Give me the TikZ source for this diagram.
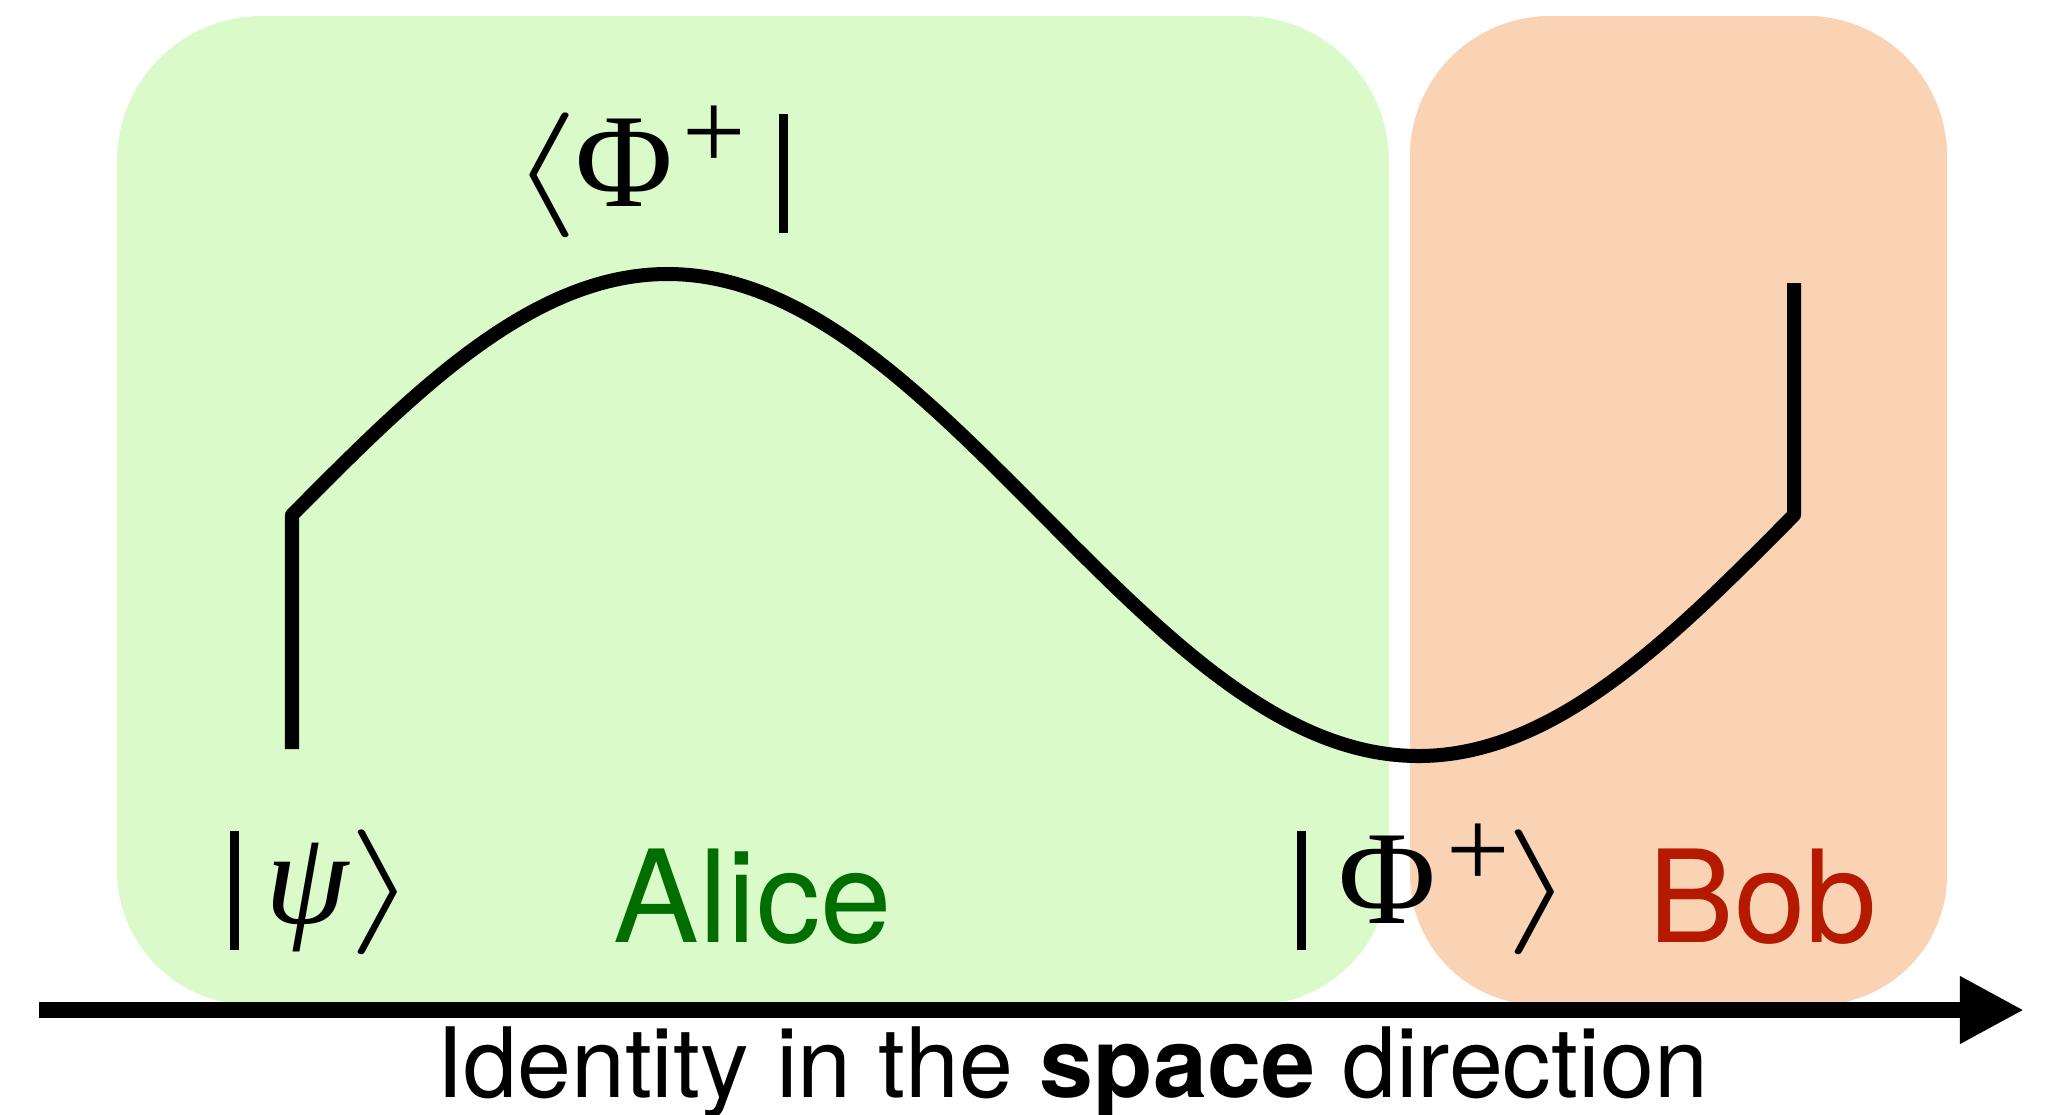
\documentclass[tikz,border=0pt]{standalone}
\usepackage{graphicx}
\usepackage{fontspec}
\newfontfamily\heros{TeX Gyre Heros}
\newfontfamily\tms{Liberation Serif}
\usetikzlibrary{arrows.meta}
\definecolor{alicebg}{RGB}{218,251,201}
\definecolor{bobbg}{RGB}{250,211,180}
\definecolor{alicefg}{RGB}{0,110,0}
\definecolor{bobfg}{RGB}{181,26,0}
\newcommand{\qlangle}{\scalebox{5.0}[3.55]{\normalsize$\langle$}}
\newcommand{\qrangle}{\scalebox{5.0}[3.55]{\normalsize$\rangle$}}
\newcommand{\qbar}{\rule[-0.27cm]{0.09cm}{1.19cm}}
\newcommand{\qphi}{{\tms\fontsize{38}{40}\selectfont Φ}}
\newcommand{\qpsi}{{\tms\itshape\fontsize{38}{40}\selectfont ψ}}
\newcommand{\qplus}{\raisebox{0.36cm}{\tms\fontsize{32}{34}\selectfont +}}
\begin{document}
\begin{tikzpicture}[x=0.01cm,y=-0.01cm,
  wire/.style={line width=0.14cm, line join=round},
  axis/.style={line width=0.16cm, -{Triangle[length=0.64cm,width=0.63cm]}},
  mathlbl/.style={inner sep=0pt, anchor=base west},
  namelbl/.style={inner sep=0pt, font=\heros\fontsize{36.5}{40}\selectfont, anchor=base west},
  caplbl/.style={inner sep=0pt, font=\heros\fontsize{27.6}{30}\selectfont, anchor=base}]
\useasboundingbox (0,0) rectangle (2045,1114);
% regions
\fill[alicebg] (117,500) [rounded corners=1.45cm] |- (750,16) -| (1389,500)
  [rounded corners=1.35cm] |- (750,1005) -| (117,500);
\fill[bobbg] (1410,500) [rounded corners=1.4cm] |- (1680,16) -| (1947,500)
  [rounded corners=1.3cm] |- (1680,1005) -| (1410,500);
% wire (sine wave)
\coordinate (wstart) at (292,749);
\coordinate (wa) at (292,515);
\coordinate (wpeak) at (667.5,274);
\coordinate (wmid) at (1043,515);
\coordinate (wtrough) at (1418.5,756);
\coordinate (wb) at (1794,515);
\coordinate (wend) at (1794,283);
\draw[wire] (wstart) -- (wa)
  .. controls (414.5,391.5) and (531.6,274) .. (wpeak)
  .. controls (803.4,274) and (920.5,391.5) .. (wmid)
  .. controls (1165.5,638.5) and (1282.6,756) .. (wtrough)
  .. controls (1554.4,756) and (1671.5,638.5) .. (wb)
  -- (wend);
% axis
\coordinate (axl) at (39,1010);
\coordinate (axr) at (2024,1010);
\draw[axis] (axl) -- (axr);
% labels
\node[mathlbl] (bra) at (510,206) {\qlangle\hspace{-0.04cm}\qphi\hspace{0.1cm}\qplus\hspace{0.33cm}\qbar};
\node[mathlbl] (ketpsi) at (229,923) {\qbar\hspace{0.27cm}\qpsi\hspace{0.0cm}\qrangle};
\node[mathlbl] (ketphi) at (1296,923) {\qbar\hspace{0.33cm}\qphi\hspace{0.1cm}\qplus\hspace{-0.04cm}\qrangle};
\node[namelbl, text=alicefg] (alice) at (613,942) {Alice};
\node[namelbl, text=bobfg] (bob) at (1648,942) {Bob};
\node[caplbl] (cap) at (1072,1097) {Identity in the {\bfseries space} direction};
\end{tikzpicture}
\end{document}
